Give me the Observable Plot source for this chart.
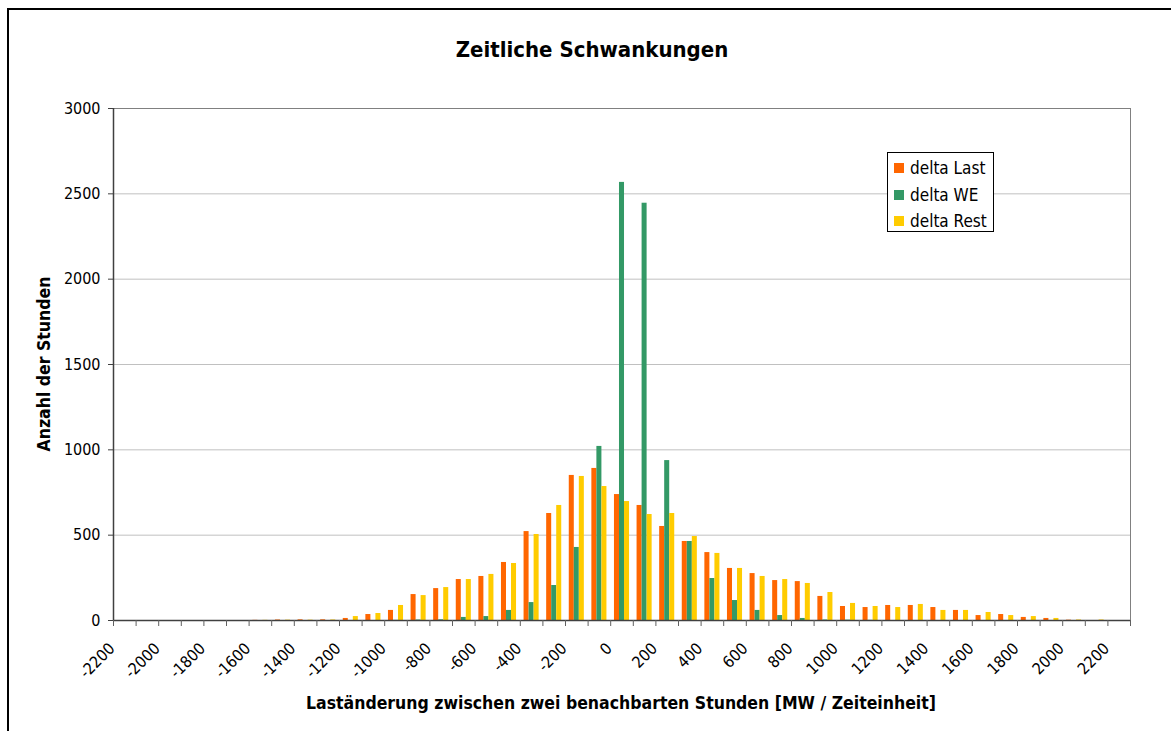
<!DOCTYPE html>
<html><head><meta charset="utf-8">
<script src="https://cdn.jsdelivr.net/npm/d3@7"></script>
<script src="https://cdn.jsdelivr.net/npm/@observablehq/plot@0.6"></script>
<style>
html,body{margin:0;padding:0;background:#fff;}
body{font-family:"DejaVu Sans Condensed","DejaVu Sans",sans-serif;}
#wrap{position:relative;width:1171px;height:731px;overflow:hidden;background:#fff;}
#border{position:absolute;left:7px;top:8px;width:1200px;height:800px;border:2px solid #000;box-sizing:border-box;pointer-events:none;}
#chart{position:absolute;left:0;top:0;}
.title{position:absolute;left:342px;width:500px;top:50px;transform:translateY(-50%);text-align:center;font-weight:bold;font-size:22px;line-height:26px;color:#000;white-space:nowrap;}
.ytitle{position:absolute;left:44px;top:364px;transform:translate(-50%,-50%) rotate(-90deg);font-weight:bold;font-size:17.5px;white-space:nowrap;color:#000;}
.xtitle{position:absolute;left:621px;top:703px;transform:translate(-50%,-50%);font-weight:bold;font-size:17.5px;white-space:nowrap;color:#000;}
.legend{position:absolute;left:887px;top:152px;width:107px;height:80px;border:1px solid #000;background:#fff;box-sizing:border-box;}
.legend .item{position:absolute;left:6px;height:20px;display:flex;align-items:center;font-size:17px;color:#000;white-space:nowrap;}
.legend .sw{width:10px;height:10px;margin-right:6px;}
</style>
</head><body>
<div id="wrap">
  <div id="chart"></div>
  <div class="title">Zeitliche Schwankungen</div>
  <div class="ytitle">Anzahl der Stunden</div>
  <div class="xtitle">Laständerung zwischen zwei benachbarten Stunden [MW / Zeiteinheit]</div>
  <div class="legend" id="legend"></div>
  <div id="border"></div>
</div>
<script>
// ---- data ----
const categories = [-2200,-2100,-2000,-1900,-1800,-1700,-1600,-1500,-1400,-1300,-1200,-1100,-1000,-900,-800,-700,-600,-500,-400,-300,-200,-100,0,100,200,300,400,500,600,700,800,900,1000,1100,1200,1300,1400,1500,1600,1700,1800,1900,2000,2100,2200];
const deltaLast = [0,0,0,0,0,0,1,3,4,4,12,35,59,152,187,240,258,340,521,627,850,891,738,674,551,463,398,305,275,234,228,141,82,76,88,88,76,59,29,35,18,12,2,0,0];
const deltaWE   = [0,0,0,0,0,0,0,0,0,0,0,0,1,3,4,18,23,59,105,205,428,1020,2567,2445,937,463,246,117,59,29,12,3,2,1,0,0,0,0,0,0,0,0,0,0,0];
const deltaRest = [0,0,0,0,0,0,1,2,2,3,23,41,88,146,193,240,270,334,504,674,844,785,697,621,627,492,393,305,258,240,217,164,100,82,76,94,59,59,47,29,23,12,3,3,0];
const seriesNames = ["delta Last","delta WE","delta Rest"];
const seriesColors = ["#FF6600","#339966","#FFCC00"];
const xTickLabels = [-2200,-2000,-1800,-1600,-1400,-1200,-1000,-800,-600,-400,-200,0,200,400,600,800,1000,1200,1400,1600,1800,2000,2200];
const yTicks = [0,500,1000,1500,2000,2500,3000];
const yGrid = [500,1000,1500,2000,2500];

// ---- build table ----
const seriesValues = [deltaLast, deltaWE, deltaRest];
const rows = [];
seriesValues.forEach((vals, k) => {
  categories.forEach((c, i) => rows.push({cat: c, k, series: seriesNames[k], value: vals[i]}));
});
const step = 100;             // category spacing in data units
const barW = step / 4.5;      // Excel gap width 150%
const half = step / 2;
const boundaries = categories.map(c => c - half).concat([categories[categories.length-1] + half]);

const font = '"DejaVu Sans Condensed","DejaVu Sans",sans-serif';
const chart = Plot.plot({
  width: 1171,
  height: 731,
  marginLeft: 113,
  marginRight: 41,
  marginTop: 108,
  marginBottom: 111,
  style: {fontFamily: font, fontSize: "16px", background: "transparent", color: "#000"},
  x: {type: "linear", domain: [categories[0] - half, categories[categories.length-1] + half]},
  y: {domain: [0, 3000]},
  color: {domain: seriesNames, range: seriesColors},
  marks: [
    Plot.ruleY(yGrid, {stroke: "#c0c0c0", strokeWidth: 1}),
    Plot.frame({stroke: "#808080"}),
    Plot.rectY(rows, {
      x1: d => d.cat - barW * 1.5 + d.k * barW,
      x2: d => d.cat - barW * 1.5 + (d.k + 1) * barW,
      y: "value",
      fill: "series"
    }),
    Plot.ruleY([0], {stroke: "#404040", strokeWidth: 1.5}),
    Plot.ruleX([categories[0] - half], {stroke: "#404040", strokeWidth: 1.5}),
    Plot.axisY({ticks: yTicks, tickSize: 5, tickPadding: 8, tickFormat: d => String(d), label: null, stroke: "#404040", fontSize: 16}),
    Plot.axisX({ticks: boundaries, tickSize: 6, tickFormat: () => "", label: null, stroke: "#606060"}),
    Plot.text(xTickLabels, {x: d => d, text: d => String(d), frameAnchor: "bottom", rotate: -45, textAnchor: "end", dy: 29, dx: -9, fontSize: 16, fill: "#000"})
  ]
});
document.getElementById("chart").appendChild(chart);

// ---- legend ----
const legend = document.getElementById("legend");
const rowTops = [5, 32, 58];
seriesNames.forEach((n, k) => {
  const it = document.createElement("div");
  it.className = "item";
  it.style.top = rowTops[k] + "px";
  it.innerHTML = `<span class="sw" style="background:${seriesColors[k]}"></span><span>${n}</span>`;
  legend.appendChild(it);
});
</script>
</body></html>
